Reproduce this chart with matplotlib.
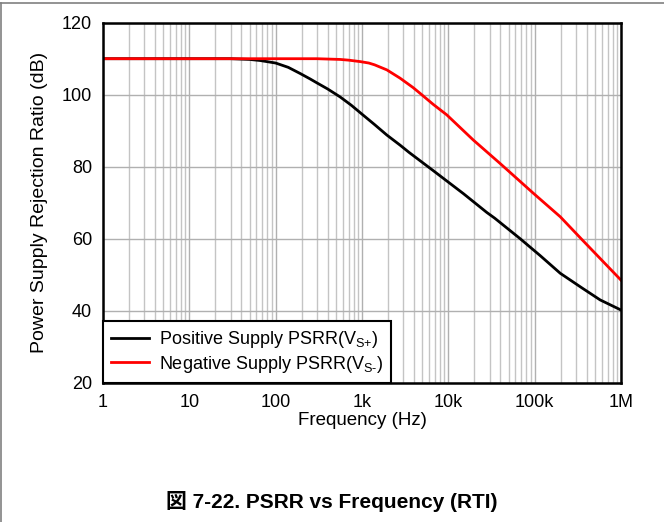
import matplotlib
matplotlib.use('Agg')
from matplotlib import pyplot as plt
from matplotlib.lines import Line2D

# values
freq_pos = [1, 10, 30, 50, 66, 100, 140, 192, 250, 300, 400, 557, 750, 1000, 1400, 1940,
            2760, 3500, 6700, 15000, 27900, 34500, 68000, 116000, 198000, 350000, 574000, 1e6]
psrr_pos = [110, 110, 110, 109.8, 109.5, 108.8, 107.6, 105.9, 104.4, 103.3, 101.6, 99.4,
            97.1, 94.6, 91.7, 88.8, 86.0, 84.0, 78.9, 72.5, 67.3, 65.7, 60.0, 55.3,
            50.4, 46.4, 43.0, 40.2]

freq_neg = [1, 100, 300, 557, 700, 952, 1200, 1400, 1940, 2760, 3900, 4700, 6700, 9600,
            19500, 39800, 96900, 198000, 352000, 1e6]
psrr_neg = [110, 110, 110, 109.8, 109.6, 109.2, 108.8, 108.3, 106.9, 104.6, 102.0, 100.4,
            97.3, 94.4, 87.4, 80.9, 72.6, 66.1, 59.8, 48.5]

x_ticks = [1, 10, 100, 1e3, 1e4, 1e5, 1e6]
x_tick_labels = ['1', '10', '100', '1k', '10k', '100k', '1M']
y_ticks = [20, 40, 60, 80, 100, 120]

plt.rcParams['font.family'] = ['Liberation Sans', 'Noto Sans CJK JP']
plt.rcParams['mathtext.fontset'] = 'custom'
plt.rcParams['mathtext.rm'] = 'Liberation Sans'
plt.rcParams['font.size'] = 13

fig = plt.figure(figsize=(6.64, 5.22), dpi=100)
ax = fig.add_axes([0.1551, 0.2668, 0.7801, 0.6897])

ax.plot(freq_pos, psrr_pos, color='black', lw=2, label=r'Positive Supply PSRR(V$_{\mathregular{S}{+}}$)')
ax.plot(freq_neg, psrr_neg, color='#ff0000', lw=2, label=r'Negative Supply PSRR(V$_{\mathregular{S}\text{-}}$)')

ax.set_xscale('log')
ax.set_xlim(1, 1e6)
ax.set_ylim(20, 120)
ax.set_xticks(x_ticks)
ax.set_xticklabels(x_tick_labels)
ax.set_yticks(y_ticks)
ax.tick_params(axis='both', which='both', length=0, labelsize=13)
ax.tick_params(axis='x', pad=8)
ax.tick_params(axis='y', pad=8)

ax.grid(True, which='major', axis='both', color='#b0b0b0', lw=1)
ax.grid(True, which='minor', axis='x', color='#c4c4c4', lw=1)
ax.set_axisbelow(True)

for s in ax.spines.values():
	s.set_linewidth(1.8)
	s.set_color('black')

ax.set_xlabel('Frequency (Hz)', labelpad=1, fontsize=13.5)
ax.set_ylabel('Power Supply Rejection Ratio (dB)', labelpad=10, fontsize=14)

lgd = ax.legend(loc='lower left', bbox_to_anchor=(0, 0), borderaxespad=0,
				fancybox=False, handlelength=2.1, handletextpad=0.55,
				labelspacing=0.2, borderpad=0.45, fontsize=13)
lgd.get_frame().set_edgecolor('black')
lgd.get_frame().set_linewidth(1.5)
lgd.get_frame().set_alpha(1)

fig.text(0.5, 0.0389, '図 7-22. PSRR vs Frequency (RTI)', ha='center', va='center',
		 fontsize=15, fontweight='bold')

# thin frame lines at the top and left edge of the page
fig.add_artist(Line2D([0, 1], [0.9937, 0.9937], color='#808080', lw=1.2, transform=fig.transFigure))
fig.add_artist(Line2D([0.0015, 0.0015], [0, 0.9937], color='#808080', lw=1.2, transform=fig.transFigure))

fig.savefig('out.png', dpi=100)
